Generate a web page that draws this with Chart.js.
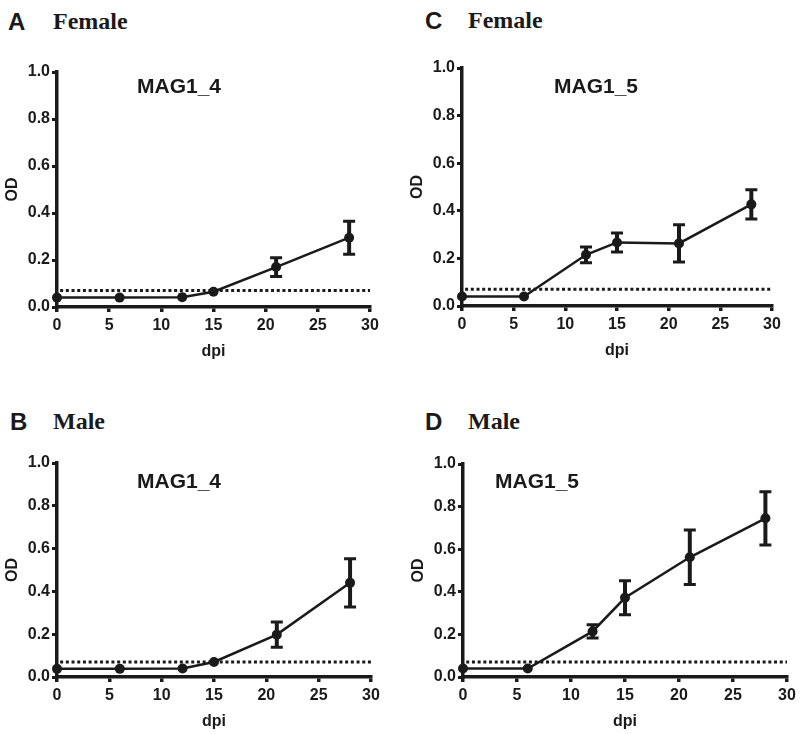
<!DOCTYPE html>
<html>
<head>
<meta charset="utf-8">
<title>MAG1 OD</title>
<script src="https://cdn.jsdelivr.net/npm/chart.js@4.4.0/dist/chart.umd.min.js"></script>
<style>
    body {
        margin: 0;
        width: 800px;
        height: 734px;
        position: relative;
        overflow: hidden;
        background: #fff;
        color: #1a1a1a;
    }
    .panel-letter {
        position: absolute;
        font: bold 24px "Liberation Sans", Arial, sans-serif;
        line-height: 1;
    }
    .panel-sex {
        position: absolute;
        font: bold 24px "Liberation Serif", "Times New Roman", serif;
        line-height: 1;
    }
    .chart-title {
        position: absolute;
        font: bold 21px "Liberation Sans", Arial, sans-serif;
        line-height: 1;
    }
    canvas {
        position: absolute;
    }
</style>
</head>
<body>
<div class="panel-letter" style="left:8px;top:10px">A</div>
<div class="panel-sex" style="left:53px;top:9px">Female</div>
<div class="panel-letter" style="left:425px;top:9px">C</div>
<div class="panel-sex" style="left:468px;top:8px">Female</div>
<div class="panel-letter" style="left:10px;top:410px">B</div>
<div class="panel-sex" style="left:53px;top:409px">Male</div>
<div class="panel-letter" style="left:425px;top:410px">D</div>
<div class="panel-sex" style="left:468px;top:409px">Male</div>

<canvas id="chart-A"></canvas>
<canvas id="chart-C"></canvas>
<canvas id="chart-B"></canvas>
<canvas id="chart-D"></canvas>

<div class="chart-title" style="left:137px;top:75px">MAG1_4</div>
<div class="chart-title" style="left:554px;top:75px">MAG1_5</div>
<div class="chart-title" style="left:137px;top:470px">MAG1_4</div>
<div class="chart-title" style="left:495px;top:470px">MAG1_5</div>

<script>
// days post infection
const days = [0, 6, 12, 15, 21, 28];

// mean OD and error per panel
const femaleMag14 = [0.040, 0.040, 0.042, 0.065, 0.170, 0.295];
const femaleMag14Err = [0, 0, 0, 0, 0.040, 0.070];
const femaleMag15 = [0.040, 0.040, 0.215, 0.267, 0.263, 0.427];
const femaleMag15Err = [0, 0, 0.033, 0.040, 0.078, 0.061];
const maleMag14 = [0.038, 0.038, 0.040, 0.070, 0.198, 0.440];
const maleMag14Err = [0, 0, 0, 0, 0.059, 0.113];
const maleMag15 = [0.040, 0.040, 0.214, 0.372, 0.562, 0.745];
const maleMag15Err = [0, 0, 0.031, 0.080, 0.128, 0.125];

// cut-off line
const cutoff = 0.07;
const cutoffRange = [0.3, 30];

const xTicks = [0, 5, 10, 15, 20, 25, 30];
const yTicks = [0, 0.2, 0.4, 0.6, 0.8, 1.0];

const INK = "#1a1a1a";

const errorBarPlugin = {
    id: "errorBars",
    afterDatasetsDraw(chart) {
        const ctx = chart.ctx;
        const xs = chart.scales.x;
        const ys = chart.scales.y;
        chart.data.datasets.forEach(ds => {
            if (!ds.errors) return;
            ctx.save();
            ctx.strokeStyle = INK;
            ds.data.forEach((pt, i) => {
                const e = ds.errors[i];
                if (!e) return;
                const x = xs.getPixelForValue(pt.x);
                const yHi = ys.getPixelForValue(pt.y + e);
                const yLo = ys.getPixelForValue(pt.y - e);
                ctx.lineWidth = 4;
                ctx.beginPath();
                ctx.moveTo(x, yHi);
                ctx.lineTo(x, yLo);
                ctx.stroke();
                ctx.lineWidth = 3;
                ctx.beginPath();
                ctx.moveTo(x - 6, yHi);
                ctx.lineTo(x + 6, yHi);
                ctx.moveTo(x - 6, yLo);
                ctx.lineTo(x + 6, yLo);
                ctx.stroke();
            });
            ctx.restore();
        });
    }
};

function toPoints(values) {
    return days.map((d, i) => ({ x: d, y: values[i] }));
}

function makeChart(panel, values, errors) {
    const canvas = document.getElementById("chart-" + panel.id);
    const top = panel.top - 36;
    const height = panel.bottom - panel.top + 91;
    canvas.width = 400;
    canvas.height = height;
    canvas.style.left = panel.x0 + "px";
    canvas.style.top = top + "px";

    const tickFont = { family: "'Liberation Sans', Arial, sans-serif", size: 16, weight: "bold" };
    const titleFont = { family: "'Liberation Sans', Arial, sans-serif", size: 16, weight: "bold" };

    new Chart(canvas.getContext("2d"), {
        type: "line",
        data: {
            datasets: [
                {
                    data: toPoints(values),
                    errors: errors,
                    borderColor: INK,
                    borderWidth: 2.5,
                    backgroundColor: INK,
                    pointRadius: 5,
                    pointBackgroundColor: INK,
                    pointBorderWidth: 0,
                    clip: false,
                    order: 1
                },
                {
                    data: cutoffRange.map(x => ({ x: x, y: cutoff })),
                    borderColor: INK,
                    borderWidth: 3,
                    borderDash: [3, 2.7],
                    pointRadius: 0,
                    clip: false,
                    order: 2
                }
            ]
        },
        options: {
            responsive: false,
            animation: false,
            events: [],
            layout: {
                padding: {
                    top: 36,
                    bottom: 0,
                    left: panel.left - panel.x0 - 54,
                    right: panel.x0 + 400 - panel.right
                }
            },
            plugins: {
                legend: { display: false },
                tooltip: { enabled: false }
            },
            scales: {
                x: {
                    type: "linear",
                    min: 0,
                    max: 30,
                    afterFit: scale => { scale.height = 55; },
                    afterBuildTicks: scale => { scale.ticks = xTicks.map(v => ({ value: v })); },
                    border: { display: true, color: INK, width: 3.5 },
                    grid: { drawOnChartArea: false, drawTicks: true, tickLength: 5, color: INK, lineWidth: 3.5 },
                    ticks: { color: INK, font: tickFont, padding: 4, maxRotation: 0 },
                    title: { display: true, text: "dpi", color: INK, font: titleFont, padding: { top: 0, bottom: 1 } }
                },
                y: {
                    min: 0,
                    max: 1,
                    afterFit: scale => { scale.width = 54; },
                    afterBuildTicks: scale => { scale.ticks = yTicks.map(v => ({ value: v })); },
                    border: { display: true, color: INK, width: 3.5 },
                    grid: { drawOnChartArea: false, drawTicks: true, tickLength: 5, color: INK, lineWidth: 3 },
                    ticks: { color: INK, font: tickFont, padding: 2, callback: v => v.toFixed(1) },
                    title: { display: true, text: "OD", color: INK, font: titleFont, padding: { top: 0, bottom: 0 } }
                }
            }
        },
        plugins: [errorBarPlugin]
    });
}

document.addEventListener("DOMContentLoaded", function () {
    makeChart({ id: "A", x0: 0, left: 57, right: 370, top: 72, bottom: 307 }, femaleMag14, femaleMag14Err);
    makeChart({ id: "C", x0: 400, left: 462, right: 772, top: 68, bottom: 306 }, femaleMag15, femaleMag15Err);
    makeChart({ id: "B", x0: 0, left: 57, right: 371, top: 463, bottom: 677 }, maleMag14, maleMag14Err);
    makeChart({ id: "D", x0: 400, left: 463, right: 787, top: 464, bottom: 677 }, maleMag15, maleMag15Err);
});
</script>
</body>
</html>
